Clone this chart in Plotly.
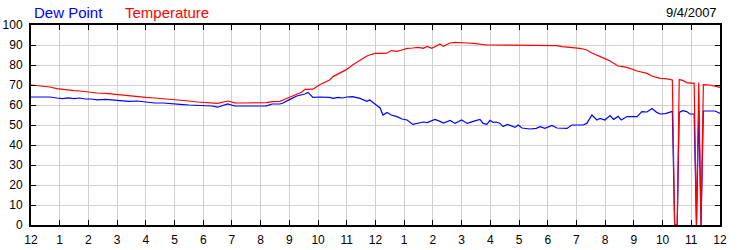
import plotly.graph_objects as go

# time of day in decimal hours (0 = midnight)
hours = [0.0, 0.5, 0.66, 0.9, 1.1, 1.3, 1.5, 1.7, 1.9, 2.1, 2.3, 2.6, 2.9, 3.1, 3.4, 3.7,
         4.0, 4.3, 4.6, 4.9, 5.2, 5.5, 5.8, 6.0, 6.3, 6.5, 6.85, 7.1, 7.4, 7.8, 8.2, 8.4,
         8.67, 8.78, 8.9, 9.02, 9.26, 9.44, 9.54, 9.65, 9.82, 10.07, 10.4, 10.52, 10.7, 10.85,
         11.0, 11.2, 11.46, 11.7, 11.8, 11.98, 12.16, 12.26, 12.4, 12.55, 12.75, 12.92, 13.1,
         13.3, 13.5, 13.67, 13.8, 13.96, 14.07, 14.25, 14.36, 14.6, 14.77, 15.0, 15.2, 15.4,
         15.64, 15.75, 15.88, 15.99, 16.1, 16.2, 16.34, 16.44, 16.6, 16.86, 16.97, 17.1, 17.38,
         17.6, 17.73, 17.9, 18.15, 18.32, 18.5, 18.67, 18.84, 19.12, 19.23, 19.36, 19.54, 19.71,
         19.82, 19.99, 20.17, 20.29, 20.45, 20.56, 20.76, 21.11, 21.28, 21.46, 21.63, 21.8,
         21.91, 22.1, 22.26, 22.34, 22.42, 22.51, 22.58, 22.7, 22.84, 22.95, 23.10, 23.18,
         23.26, 23.34, 23.42, 23.65, 23.83, 24.0]

temperature = [70.0, 69.3, 69.0, 68.2, 67.8, 67.6, 67.2, 67.0, 66.6, 66.3, 66.0, 65.8, 65.3, 65.0, 64.8, 64.3,
               63.8, 63.5, 63.2, 62.8, 62.3, 62.0, 61.5, 61.4, 60.9, 60.8, 62.0, 61.1, 61.0, 61.0, 61.2, 61.7,
               61.8, 62.5, 63.2, 64.3, 65.6, 66.5, 67.8, 67.8, 67.9, 70.3, 72.5, 74.2, 75.5, 76.8,
               77.8, 80.0, 82.5, 84.5, 85.0, 85.8, 85.8, 85.8, 85.9, 87.2, 86.8, 87.5, 88.3,
               88.5, 88.8, 88.3, 89.3, 88.3, 89.2, 90.5, 89.3, 91.0, 91.3, 91.3, 91.0, 90.8,
               90.3, 90.0, 90.0, 90.0, 90.0, 90.0, 89.8, 89.7, 89.7, 89.7, 89.7, 89.7, 89.7,
               89.7, 89.7, 89.7, 89.7, 89.7, 89.2, 89.0, 89.0, 88.3, 88.0, 87.5, 86.0, 84.8,
               84.0, 83.2, 82.0, 80.8, 79.5, 79.3, 78.8, 77.0, 76.3, 75.8, 74.5, 73.8,
               73.3, 73.2, 72.8, 72.5, 0, 0, 72.7, 72.3, 71.2, 71.0, 70.8, 0,
               71.2, 0, 70.2, 70.0, 69.5, 68.8]

dew_point = [64.0, 64.0, 64.0, 63.5, 63.2, 63.6, 63.2, 63.5, 63.0, 63.0, 62.6, 62.8, 62.5, 62.2, 61.8, 62.0,
             61.5, 61.0, 61.0, 60.8, 60.3, 60.0, 59.7, 59.6, 59.5, 58.9, 60.5, 59.5, 59.6, 59.5, 59.6, 60.5,
             60.5, 61.0, 62.0, 62.8, 64.5, 65.0, 65.5, 66.3, 63.8, 64.0, 63.8, 63.3, 63.8, 63.5,
             64.0, 64.2, 63.3, 61.8, 62.5, 60.5, 58.5, 55.0, 56.3, 55.0, 54.2, 53.0, 52.5,
             50.3, 51.0, 51.5, 51.2, 52.0, 52.8, 51.8, 51.0, 52.3, 50.8, 52.5, 50.8, 51.8,
             52.8, 50.8, 50.3, 52.3, 51.3, 51.5, 50.8, 49.2, 50.3, 48.8, 50.0, 48.5, 48.0,
             48.3, 49.2, 48.3, 49.8, 48.5, 48.5, 48.3, 50.0, 50.0, 50.0, 50.8, 55.0, 52.5,
             53.3, 52.5, 54.7, 52.8, 54.3, 52.5, 54.2, 54.2, 56.7, 56.5, 58.2, 56.3,
             55.5, 55.7, 56.7, 56.8, 0, 0, 56.3, 57.2, 56.7, 55.5, 55.5, 0,
             57.2, 0, 57.0, 57.0, 57.0, 55.8]

hour_ticks = list(range(0, 25))
hour_labels = ["12", "1", "2", "3", "4", "5", "6", "7", "8", "9", "10", "11",
               "12", "1", "2", "3", "4", "5", "6", "7", "8", "9", "10", "11", "12"]
y_ticks = list(range(0, 101, 10))

FONT = "Liberation Sans, Arial, sans-serif"

fig = go.Figure()
fig.add_trace(go.Scatter(x=hours, y=dew_point, mode="lines", name="Dew Point",
                         line=dict(color="#0000ff", width=1.2)))
fig.add_trace(go.Scatter(x=hours, y=temperature, mode="lines", name="Temperature",
                         line=dict(color="#ff0000", width=1.2)))

L, R, T, B = 31, 30, 25, 25
pw, ph = 750 - L - R, 250 - T - B


def px_x(x):
    return (x - L) / pw


def px_y(y):
    return (250 - B - y) / ph


fig.update_layout(
    width=750, height=250,
    margin=dict(l=L, r=R, t=T, b=B, pad=0, autoexpand=False),
    paper_bgcolor="white", plot_bgcolor="white",
    showlegend=False,
    font=dict(family=FONT, size=12, color="black"),
    xaxis=dict(range=[0, 24], tickvals=hour_ticks, ticktext=hour_labels,
               showgrid=True, gridcolor="#d0d0d0", gridwidth=1,
               showline=True, linecolor="black", linewidth=2, mirror="ticks",
               ticks="inside", ticklen=5, tickcolor="black", tickwidth=1,
               ticklabelstandoff=3, automargin=False,
               zeroline=False, tickfont=dict(size=12, family=FONT, color="black")),
    yaxis=dict(range=[0, 100], tickvals=y_ticks,
               showgrid=True, gridcolor="#d0d0d0", gridwidth=1,
               showline=True, linecolor="black", linewidth=2, mirror="ticks",
               ticks="inside", ticklen=5, tickcolor="black", tickwidth=1,
               ticklabelstandoff=4, automargin=False,
               zeroline=False, tickfont=dict(size=12, family=FONT, color="black")),
    yaxis2=dict(range=[0, 100], tickvals=y_ticks, overlaying="y", side="right",
                showgrid=False, showline=False, ticks="", zeroline=False,
                ticklabelstandoff=5, automargin=False,
                tickfont=dict(size=12, family=FONT, color="black")),
    annotations=[
        dict(text="Dew Point", x=px_x(32), y=px_y(12), xref="paper", yref="paper",
             xanchor="left", yanchor="middle", showarrow=False,
             font=dict(color="#0000ff", size=15, family=FONT)),
        dict(text="Temperature", x=px_x(123), y=px_y(12), xref="paper", yref="paper",
             xanchor="left", yanchor="middle", showarrow=False,
             font=dict(color="#ff0000", size=15, family=FONT)),
        dict(text="9/4/2007", x=px_x(719), y=px_y(12.5), xref="paper", yref="paper",
             xanchor="right", yanchor="middle", showarrow=False,
             font=dict(color="black", size=13, family=FONT)),
    ],
)

fig.write_html("out.html")
